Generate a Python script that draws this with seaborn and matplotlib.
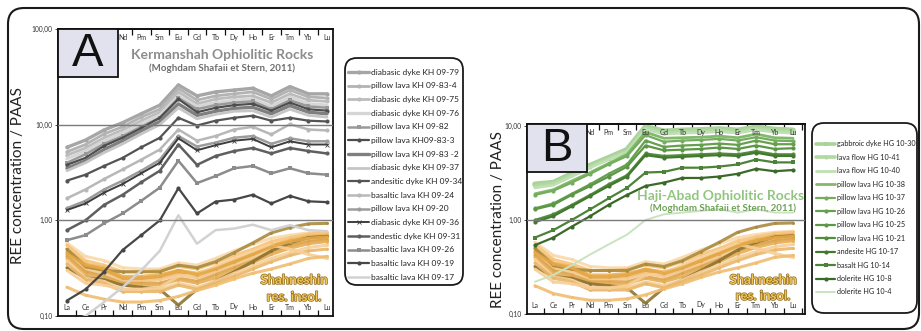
import numpy as np
import matplotlib
matplotlib.use("Agg")
import matplotlib.pyplot as plt
import matplotlib.patheffects as pe
from matplotlib.patches import FancyBboxPatch, Rectangle
from matplotlib.lines import Line2D
from matplotlib.ticker import FixedLocator, NullLocator
import seaborn as sns

# ---------------------------------------------------------------------------
# Data (REE / PAAS)
# ---------------------------------------------------------------------------

ELEMENTS = ["La", "Ce", "Pr", "Nd", "Pm", "Sm", "Eu", "Gd", "Tb", "Dy", "Ho", "Er", "Tm", "Yb", "Lu"]
Y_TICKS = [0.1, 1, 10, 100]
Y_TICKLABELS = ["0,10", "1,00", "10,00", "100,00"]

# Kermanshah ophiolitic rocks (panel A)
KH_LABELS = [
    "diabasic dyke KH 09-79", "pillow lava KH 09-83-4", "diabasic dyke KH 09-75",
    "diabasic dyke KH 09-76", "pillow lava KH 09-82", "pillow lava KH09-83-3",
    "pillow lava KH 09-83 -2", "diabasic dyke KH 09-37", "andesitic dyke KH 09-34",
    "basaltic lava KH 09-24", "pillow lava KH 09-20", "diabasic dyke KH 09-36",
    "andestic dyke KH 09-31", "basaltic lava KH 09-26", "basaltic lava KH 09-19",
    "basaltic lava KH 09-17",
]
KH_VALUES = [
    [5.8, 6.9, 8.8, 10.5, 13.0, 16.0, 26.0, 20.0, 22.0, 23.0, 24.0, 20.0, 25.0, 21.0, 21.0],
    [5.2, 6.2, 8.0, 9.5, 12.0, 14.5, 24.0, 18.0, 20.0, 21.0, 22.0, 18.5, 23.0, 19.5, 19.0],
    [4.8, 5.7, 7.3, 8.8, 11.0, 13.5, 22.0, 16.5, 18.5, 19.5, 20.0, 17.0, 21.0, 18.0, 17.5],
    [4.4, 5.3, 6.8, 8.2, 10.2, 12.5, 20.0, 15.5, 17.0, 18.0, 18.5, 15.5, 19.5, 16.5, 16.0],
    [4.0, 4.9, 6.3, 7.6, 9.5, 11.8, 19.0, 14.5, 16.0, 17.0, 17.5, 14.5, 18.0, 15.5, 15.0],
    [3.8, 4.5, 6.0, 7.3, 9.2, 11.8, 18.5, 13.5, 15.0, 16.0, 16.5, 14.0, 17.0, 14.5, 14.0],
    [3.5, 4.2, 5.5, 6.8, 8.6, 10.8, 16.5, 12.5, 13.8, 14.8, 15.2, 13.0, 15.8, 13.5, 13.0],
    [3.3, 4.0, 5.1, 6.3, 8.0, 10.0, 15.0, 11.5, 12.8, 13.8, 14.0, 12.0, 14.5, 12.5, 12.0],
    [2.6, 3.0, 3.7, 4.5, 5.8, 7.3, 11.8, 9.8, 11.0, 11.8, 12.4, 11.0, 11.8, 11.0, 10.8],
    [1.7, 2.1, 2.7, 3.4, 4.3, 5.5, 8.9, 6.8, 7.6, 8.9, 9.5, 7.9, 10.1, 8.9, 8.7],
    [1.34, 1.6, 2.1, 2.6, 3.3, 4.3, 7.6, 5.9, 6.5, 7.3, 7.6, 6.3, 7.2, 6.7, 6.7],
    [1.28, 1.5, 1.95, 2.4, 3.1, 4.0, 7.2, 5.4, 6.1, 6.8, 7.1, 5.8, 6.7, 6.2, 6.2],
    [0.79, 1.0, 1.45, 1.85, 2.5, 3.3, 6.2, 3.8, 4.7, 5.3, 5.7, 5.0, 5.7, 5.3, 5.0],
    [0.62, 0.7, 0.93, 1.18, 1.6, 2.2, 4.2, 2.45, 2.9, 3.5, 3.7, 3.1, 3.5, 3.1, 3.0],
    [0.145, 0.19, 0.29, 0.49, 0.7, 1.0, 2.17, 1.18, 1.57, 1.65, 1.85, 1.5, 1.8, 1.58, 1.55],
    [0.085, 0.1, 0.14, 0.2, 0.3, 0.48, 1.13, 0.57, 0.79, 0.82, 0.9, 0.79, 0.89, 0.79, 0.77],
]

# Haji-Abad ophiolitic rocks (panel B)
HG_LABELS = [
    "gabbroic dyke HG 10-30", "lava flow HG 10-41", "lava flow HG 10-40",
    "pillow lava HG 10-38", "pillow lava HG 10-37", "pillow lava HG 10-26",
    "pillow lava HG 10-25", "pillow lava HG 10-21", "andesite HG 10-17",
    "basalt HG 10-14", "dolerite HG 10-8", "dolerite HG 10-4",
]
HG_VALUES = [
    [2.4, 2.5, 3.1, 3.8, 4.6, 5.6, 9.8, 8.8, 9.0, 9.1, 9.3, 9.0, 9.7, 9.2, 9.0],
    [2.3, 2.45, 3.0, 3.7, 4.5, 5.4, 9.5, 8.5, 8.7, 8.8, 9.0, 8.7, 9.4, 8.9, 8.7],
    [2.2, 2.35, 2.9, 3.6, 4.4, 5.3, 9.2, 8.2, 8.4, 8.5, 8.7, 8.4, 9.1, 8.6, 8.4],
    [1.9, 2.1, 2.6, 3.2, 4.0, 5.0, 8.6, 7.4, 7.5, 7.6, 7.8, 7.5, 8.2, 7.5, 7.4],
    [1.85, 2.05, 2.5, 3.1, 3.9, 4.8, 8.0, 6.8, 7.0, 7.1, 7.3, 7.0, 7.6, 7.0, 6.9],
    [1.33, 1.5, 1.9, 2.4, 3.1, 3.9, 7.0, 6.0, 6.2, 6.3, 6.5, 6.3, 7.0, 6.4, 6.4],
    [1.3, 1.45, 1.85, 2.3, 2.9, 3.7, 6.2, 5.5, 5.6, 5.7, 5.9, 5.7, 6.2, 5.7, 5.8],
    [1.0, 1.15, 1.45, 1.85, 2.4, 3.0, 5.1, 4.8, 4.9, 5.0, 5.1, 5.0, 5.4, 5.0, 5.0],
    [0.95, 1.1, 1.4, 1.8, 2.3, 2.9, 4.9, 4.6, 4.7, 4.8, 4.9, 4.8, 5.2, 4.8, 4.8],
    [0.65, 0.78, 1.0, 1.3, 1.7, 2.2, 3.2, 3.25, 3.6, 3.6, 3.7, 3.9, 4.4, 4.1, 4.1],
    [0.54, 0.65, 0.85, 1.1, 1.45, 1.85, 2.3, 2.5, 2.8, 2.8, 2.9, 3.1, 3.5, 3.3, 3.4],
    [0.22, 0.26, 0.33, 0.43, 0.55, 0.7, 1.0, 1.15, 1.2, 1.25, 1.3, 1.2, 1.3, 1.2, 1.2],
]

# Shahneshin insoluble residues (both panels)
SH_VALUES = [
    [0.58, 0.42, 0.38, 0.32, 0.31, 0.31, 0.36, 0.34, 0.40, 0.48, 0.56, 0.65, 0.70, 0.74, 0.76],
    [0.55, 0.38, 0.34, 0.29, 0.29, 0.30, 0.33, 0.31, 0.36, 0.43, 0.50, 0.60, 0.66, 0.72, 0.74],
    [0.50, 0.35, 0.32, 0.26, 0.26, 0.27, 0.30, 0.28, 0.32, 0.38, 0.45, 0.55, 0.62, 0.68, 0.70],
    [0.47, 0.32, 0.30, 0.24, 0.24, 0.25, 0.28, 0.26, 0.30, 0.36, 0.43, 0.53, 0.60, 0.66, 0.68],
    [0.44, 0.30, 0.28, 0.23, 0.23, 0.24, 0.27, 0.25, 0.29, 0.34, 0.41, 0.50, 0.57, 0.62, 0.65],
    [0.42, 0.29, 0.26, 0.22, 0.22, 0.22, 0.25, 0.23, 0.27, 0.32, 0.38, 0.47, 0.54, 0.60, 0.63],
    [0.40, 0.27, 0.25, 0.21, 0.21, 0.21, 0.24, 0.22, 0.25, 0.30, 0.36, 0.44, 0.51, 0.57, 0.60],
    [0.50, 0.33, 0.30, 0.29, 0.29, 0.29, 0.34, 0.32, 0.37, 0.46, 0.58, 0.74, 0.84, 0.92, 0.93],
    [0.32, 0.25, 0.24, 0.21, 0.20, 0.19, 0.13, 0.19, 0.23, 0.29, 0.37, 0.48, 0.58, 0.66, 0.68],
    [0.38, 0.25, 0.23, 0.19, 0.19, 0.19, 0.22, 0.20, 0.23, 0.28, 0.33, 0.40, 0.46, 0.52, 0.55],
    [0.35, 0.24, 0.22, 0.18, 0.18, 0.18, 0.21, 0.19, 0.22, 0.26, 0.31, 0.37, 0.43, 0.48, 0.50],
    [0.30, 0.22, 0.21, 0.19, 0.19, 0.20, 0.26, 0.27, 0.33, 0.40, 0.48, 0.55, 0.50, 0.44, 0.40],
    [0.20, 0.165, 0.15, 0.14, 0.14, 0.145, 0.16, 0.185, 0.21, 0.245, 0.28, 0.31, 0.35, 0.40, 0.42],
    [0.45, 0.34, 0.31, 0.25, 0.25, 0.26, 0.30, 0.27, 0.31, 0.37, 0.44, 0.53, 0.60, 0.65, 0.67],
]

# ---------------------------------------------------------------------------
# Styles
# ---------------------------------------------------------------------------

KH_COLORS = ["#a6a6a6", "#b3b3b3", "#bcbcbc", "#d6d6d6", "#999999", "#4d4d4d",
             "#7f7f7f", "#c6c6c6", "#545454", "#b8b8b8", "#9c9c9c", "#3d3d3d",
             "#5f5f5f", "#8c8c8c", "#474747", "#d2d2d2"]
KH_MARKERS = ["o", "o", "o", "", "s", "o", "", "", "o", "o", "o", "x", "o", "s", "o", ""]
KH_LW = [2.4, 2.0, 2.0, 2.4, 1.8, 1.6, 2.4, 2.0, 1.6, 1.8, 1.8, 1.4, 1.8, 1.8, 1.6, 1.8]

HG_COLORS = ["#a9d39a", "#b2d8a4", "#bfe0b2", "#82b96c", "#74ad5d", "#66a04f",
             "#5c9746", "#528d3e", "#44782f", "#4d8338", "#3b6a28", "#c9e3bf"]
HG_MARKERS = ["s", "o", "", "", "o", "o", "o", "o", "o", "s", "o", ""]
HG_LW = [4.0, 2.6, 2.0, 2.0, 1.6, 1.6, 1.6, 1.6, 1.6, 1.6, 1.6, 1.4]

SH_COLORS = ["#f9d9a9", "#f5c47c", "#efb256", "#e9a13b", "#f2c98f", "#dca24a", "#e6ad55",
             "#a98a3e", "#8e7432", "#f6cf95", "#eab66a", "#f7cf98", "#f0bd70", "#e3a848"]

W, H = 921, 331


def fx(px):
    return px / W


def fy(py):
    return 1 - py / H


def rounded_box(fig, x0, y0, x1, y1, radius=0.12, lw=1.3):
    """Rounded frame given in pixel coords (y downward)."""
    box = FancyBboxPatch(
        (x0 / 100, (H - y1) / 100), (x1 - x0) / 100, (y1 - y0) / 100,
        boxstyle=f"round,pad=0,rounding_size={radius}",
        transform=fig.dpi_scale_trans, fill=False, ec="#1a1a1a", lw=lw,
    )
    fig.add_artist(box)


def draw_series(ax, values, color, marker, lw, ms=3, alpha=1.0, z=2):
    sns.lineplot(
        x=np.arange(len(ELEMENTS)), y=values, ax=ax, color=color, marker=marker,
        lw=lw, markersize=ms, markeredgewidth=0.6 if marker == "x" else 0,
        markeredgecolor=color, estimator=None, sort=False, legend=False,
        alpha=alpha, zorder=z,
    )


def key_list(fig, labels, colors, markers, widths, x0, x1, y0, dy, fontsize):
    """Legend entries placed row by row (pixel coords)."""
    for i, (lab, c, m, lw) in enumerate(zip(labels, colors, markers, widths)):
        y = fy(y0 + i * dy)
        fig.add_artist(Line2D([fx(x0), fx(x1)], [y, y], color=c, lw=min(lw, 2.6),
                              transform=fig.transFigure))
        if m:
            fig.add_artist(Line2D([fx((x0 + x1) / 2)], [y], color=c, marker=m,
                                  markersize=3, markeredgewidth=0.6 if m == "x" else 0,
                                  markeredgecolor=c, transform=fig.transFigure))
        fig.text(fx(x1 + 2), y, lab, ha="left", va="center", fontsize=fontsize,
                 color="#222222")


def style_axis(ax, xlim, ylim, hlines, letter):
    ax.set_yscale("log")
    ax.set_xlabel("")
    ax.set_ylabel("")

    # ticks first: set_yticks would otherwise widen the limits
    ax.set_yticks(Y_TICKS)
    ax.set_yticklabels(Y_TICKLABELS)
    ax.yaxis.set_minor_locator(NullLocator())
    ax.tick_params(axis="y", which="major", length=2, width=0.6, labelsize=4.8,
                   pad=2, colors="#333333", left=True)

    ax.set_xticks(range(len(ELEMENTS)))
    ax.set_xticklabels(ELEMENTS)
    ax.xaxis.set_minor_locator(FixedLocator(np.arange(-0.5, len(ELEMENTS), 1)))
    ax.tick_params(axis="x", which="major", bottom=True, labelbottom=True, top=False,
                   labeltop=False, length=0, pad=-9, labelsize=5, colors="#333333")
    ax.tick_params(axis="x", which="minor", top=True, bottom=True, direction="in",
                   length=4, width=0.9, color="#111111")

    # element names along the top, the first ones hidden behind the letter box
    top = ax.secondary_xaxis("top")
    top.set_zorder(6)
    top.set_xticks(range(len(ELEMENTS)))
    top.set_xticklabels([""] * 3 + ELEMENTS[3:])
    top.tick_params(axis="x", length=0, pad=-9, labelsize=5, colors="#333333")
    top.spines["top"].set_linewidth(1.3)
    top.spines["top"].set_color("#111111")

    ax.set_xlim(*xlim)
    ax.set_ylim(*ylim)

    for sp in ax.spines.values():
        sp.set_visible(True)
        sp.set_color("#111111")
        sp.set_linewidth(1.3)

    for h in hlines:
        ax.axhline(h, color="#7a7a7a", lw=1.0, zorder=4)

    box = Rectangle((0, 1 - 48 / ax.bbox.height), 60 / ax.bbox.width, 48 / ax.bbox.height,
                    transform=ax.transAxes, fc="#e2e2ee", ec="#111111", lw=1.3,
                    clip_on=False, zorder=10)
    ax.add_patch(box)
    ax.text(30 / ax.bbox.width, 1 - 25 / ax.bbox.height, letter, transform=ax.transAxes,
            ha="center", va="center", fontsize=34, family="Liberation Sans",
            color="#111111", zorder=11)


def shahneshin(fig, x, y1, y2):
    eff = [pe.withStroke(linewidth=1.0, foreground="#8c6a22")]
    for text, y in (("Shahneshin", y1), ("res. insol.", y2)):
        fig.text(fx(x), fy(y), text, ha="center", va="center", fontsize=9.5,
                 fontweight="bold", color="#f2c556", path_effects=eff, zorder=20)


# ---------------------------------------------------------------------------
# Figure
# ---------------------------------------------------------------------------

sns.set_theme(style="white")
plt.rcParams["font.family"] = ["Lato", "DejaVu Sans"]

fig = plt.figure(figsize=(W / 100, H / 100), dpi=100)
fig.patch.set_facecolor("white")

axA = fig.add_axes([fx(58), fy(316), fx(333) - fx(58), fy(29) - fy(316)])
axB = fig.add_axes([fx(527), fy(314), fx(805) - fx(527), fy(124) - fy(314)])

for ax in (axA, axB):
    for vals, col in zip(SH_VALUES, SH_COLORS):
        draw_series(ax, vals, col, "o", 2.2, ms=2.2, alpha=0.9, z=2)

for vals, col, mk, lw in zip(KH_VALUES, KH_COLORS, KH_MARKERS, KH_LW):
    draw_series(axA, vals, col, mk, lw, z=3)

for vals, col, mk, lw in zip(HG_VALUES, HG_COLORS, HG_MARKERS, HG_LW):
    draw_series(axB, vals, col, mk, lw, z=3)

style_axis(axA, (-0.48, 14.32), (0.1, 100), [1, 10], "A")
style_axis(axB, (-0.43, 14.65), (0.1, 10.5), [1], "B")

# titles
fig.text(fx(222), fy(55), "Kermanshah Ophiolitic Rocks", ha="center", va="center",
         fontsize=10, fontweight="bold", color="#8c8c8c")
fig.text(fx(222), fy(68), "(Moghdam Shafaii et Stern, 2011)", ha="center", va="center",
         fontsize=7, fontweight="bold", color="#6e6e6e")
fig.text(fx(721), fy(196), "Haji-Abad Ophiolitic Rocks", ha="center", va="center",
         fontsize=10, fontweight="bold", color="#92c680", zorder=20)
fig.text(fx(723), fy(208), "(Moghdam Shafaii et Stern, 2011)", ha="center", va="center",
         fontsize=7, fontweight="bold", color="#6fa25a", zorder=20)

shahneshin(fig, 294, 280, 297)
shahneshin(fig, 763, 280, 296)

# y labels
fig.text(fx(18), fy(175), "REE concentration / PAAS", rotation=90, ha="center",
         va="center", fontsize=11, color="#222222")
fig.text(fx(498), fy(219), "REE concentration / PAAS", rotation=90, ha="center",
         va="center", fontsize=11, color="#222222")

# legends
key_list(fig, KH_LABELS, KH_COLORS, KH_MARKERS, KH_LW, 348, 369, 72, 13.67, 6.0)
rounded_box(fig, 345, 58, 463, 285)

key_list(fig, HG_LABELS, HG_COLORS, HG_MARKERS, HG_LW, 816, 835, 144, 13.45, 5.2)
rounded_box(fig, 812, 123, 917, 313)

# outer frame
rounded_box(fig, 8, 8, 919, 329, radius=0.16, lw=1.5)

fig.savefig("out.png", dpi=100, facecolor="white")
